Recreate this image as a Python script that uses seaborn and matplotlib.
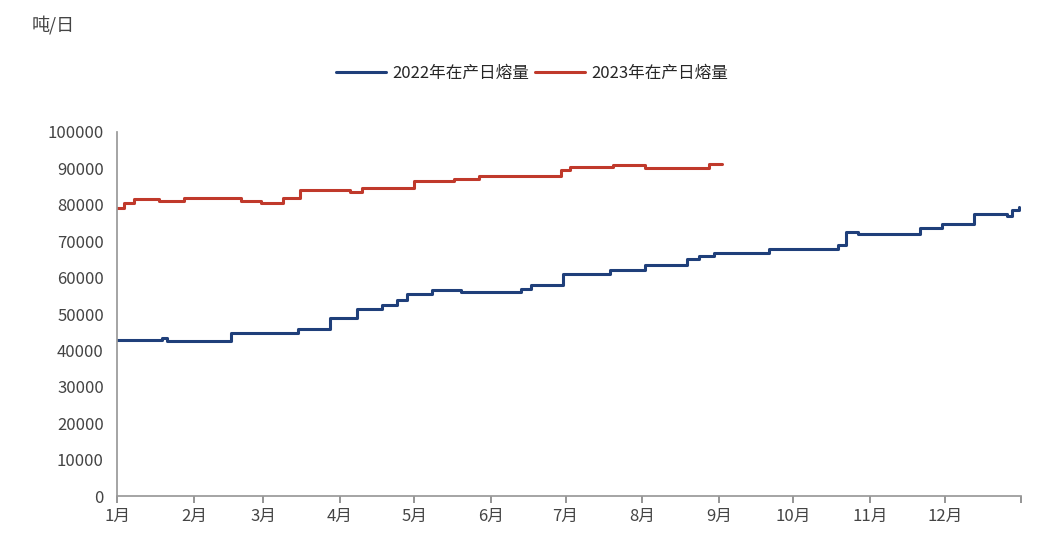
import matplotlib
matplotlib.use("Agg")
import matplotlib.pyplot as plt
import pandas as pd
import seaborn as sns

# step change points: day of year -> value
days_2022 = [0, 18, 20, 29, 46, 73, 86, 97, 107, 113, 117, 127, 139, 163, 167, 180, 199, 213,
             230, 235, 241, 263, 291, 294, 299, 324, 333, 346, 359, 361, 364]
vals_2022 = [42800, 43500, 42700, 42500, 44900, 46000, 49000, 51500, 52500, 54000, 55500, 56500,
             56000, 57000, 58000, 61000, 62000, 63500, 65000, 66000, 66700, 68000, 69000, 72500,
             72000, 73500, 74800, 77500, 77000, 78500, 79500]
days_2023 = [0, 3, 7, 17, 27, 50, 58, 67, 74, 94, 99, 120, 136, 146, 179, 183, 200, 213, 239, 244]
vals_2023 = [79200, 80500, 81500, 81000, 82000, 81000, 80500, 82000, 84000, 83500, 84500, 86500,
             87200, 88000, 89500, 90500, 91000, 90000, 91200, 91200]
month_days = [0, 31, 59, 90, 120, 151, 181, 212, 243, 273, 304, 334, 365]
month_labels = ["1月", "2月", "3月", "4月", "5月", "6月", "7月", "8月", "9月", "10月", "11月", "12月"]
names = ["2022年在产日熔量", "2023年在产日熔量"]


def main():
    sns.set_theme(style="white")
    plt.rcParams["font.family"] = ["Noto Sans CJK SC", "DejaVu Sans"]
    fig = plt.figure(figsize=(10.64, 5.52), dpi=100)
    ax = fig.add_axes([0.11, 0.101, 0.85, 0.66])
    df = pd.concat([
        pd.DataFrame({"day": days_2022, "value": vals_2022, "series": names[0]}),
        pd.DataFrame({"day": days_2023, "value": vals_2023, "series": names[1]}),
    ])
    colors = {names[0]: "#1f3f7a", names[1]: "#c0392b"}
    for name, sub in df.groupby("series"):
        ax.step(sub["day"], sub["value"], where="post", color=colors[name], lw=2.2, label=name)
    ax.set_xlim(0, 365)
    ax.set_ylim(0, 100000)
    ax.set_yticks(range(0, 100001, 10000))
    ax.set_xticks(month_days)
    ax.set_xticklabels(month_labels + [""])
    ax.tick_params(axis="x", bottom=True, length=5, color="#888888", labelsize=12, colors="#444444")
    ax.tick_params(axis="y", labelsize=12, colors="#444444")
    for s in ["top", "right"]:
        ax.spines[s].set_visible(False)
    for s in ["left", "bottom"]:
        ax.spines[s].set_color("#999999")
    ax.grid(False)
    fig.legend(loc="upper center", bbox_to_anchor=(0.5, 0.91), ncol=2, frameon=False,
               fontsize=12, handlelength=3, columnspacing=0.3, handletextpad=0.4)
    fig.text(0.03, 0.955, "吨/日", fontsize=13, color="#444444", va="center")
    fig.savefig("out.png", dpi=100)


if __name__ == "__main__":
    main()
